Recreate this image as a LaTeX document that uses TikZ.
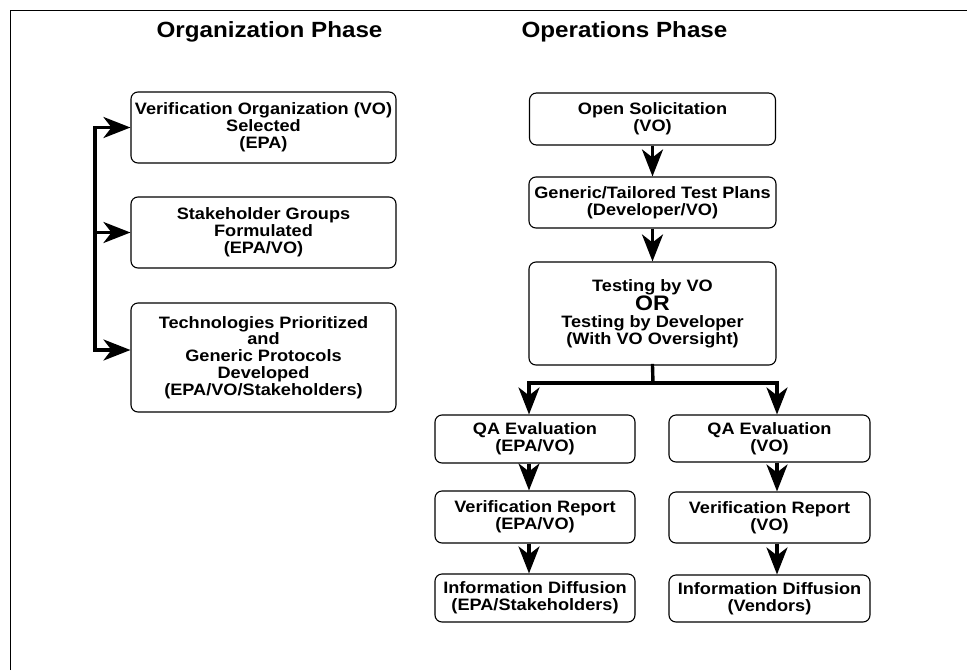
\documentclass[tikz,border=0pt]{standalone}
\usepackage{fontspec}
\setmainfont{Liberation Sans}[FakeStretch=1.1]
\usetikzlibrary{arrows.meta}
\begin{document}
\begin{tikzpicture}[x=1pt,y=-1pt,
  box/.style={draw, line width=1.1pt, rounded corners=7pt, align=center, inner sep=0pt,
    font=\fontsize{16.5}{16.8}\selectfont\bfseries},
  title/.style={font=\fontsize{22}{26}\selectfont\bfseries, anchor=base, inner sep=0pt},
  conn/.style={line width=3.4pt, line cap=rect},
  arr/.style={line width=3.4pt, -{Stealth[length=27pt 0,width=21pt 0,inset=8pt 0]}},
  frame/.style={line width=0.9pt}]
\useasboundingbox (0,0) rectangle (967,670);
% frame
\coordinate (ftl) at (10,10);
\coordinate (ftr) at (967,10);
\coordinate (fbl) at (10,670);
\draw[frame] (fbl) -- (ftl) -- (ftr);
% titles
\node[title] (t1) at (269.5,37) {Organization Phase};
\node[title] (t2) at (624.5,37) {Operations Phase};
% left column
\node[box, minimum width=265pt, minimum height=71pt] (L1) at (263.5,127.5)
  {Verification Organization (VO)\\Selected\\(EPA)};
\node[box, minimum width=265pt, minimum height=71pt] (L2) at (263.5,232.5)
  {Stakeholder Groups\\Formulated\\(EPA/VO)};
\node[box, minimum width=265pt, minimum height=109pt] (L3) at (263.5,357.5)
  {Technologies Prioritized\\and\\Generic Protocols\\Developed\\(EPA/VO/Stakeholders)};
\coordinate (btop) at (95,127.5);
\coordinate (bbot) at (95,350);
\draw[conn] (btop) -- (bbot);
\draw[arr] (btop) -- (L1.west);
\draw[arr] (L2.west -| btop) -- (L2.west);
\draw[arr] (bbot) -- (bbot -| L3.west);
% right column
\node[box, minimum width=246pt, minimum height=52pt] (R1) at (652.5,119)
  {Open Solicitation\\(VO)};
\node[box, minimum width=247pt, minimum height=51pt] (R2) at (652.5,202.5)
  {Generic/Tailored Test Plans\\(Developer/VO)};
\node[box, minimum width=247pt, minimum height=103pt] (R3) at (652.5,313.5)
  {Testing by VO\\{\fontsize{21}{20}\selectfont OR}\\Testing by Developer\\(With VO Oversight)};
\draw[arr] (R1.south) -- (R2.north);
\draw[arr] (R2.south) -- (R3.north);
\node[box, minimum width=200pt, minimum height=48pt] (QL) at (535,439) {QA Evaluation\\(EPA/VO)};
\node[box, minimum width=201pt, minimum height=47pt] (QR) at (769.5,438.5) {QA Evaluation\\(VO)};
\node[box, minimum width=200pt, minimum height=52pt] (VL) at (535,517) {Verification Report\\(EPA/VO)};
\node[box, minimum width=201pt, minimum height=51pt] (VR) at (769.5,517.5) {Verification Report\\(VO)};
\node[box, minimum width=200pt, minimum height=48pt] (IL) at (535,598) {Information Diffusion\\(EPA/Stakeholders)};
\node[box, minimum width=201pt, minimum height=47pt] (IR) at (769.5,598.5) {Information Diffusion\\(Vendors)};
\coordinate (j) at (653,383);
\coordinate (jl) at (529,383);
\coordinate (jr) at (777,383);
\draw[conn] (R3.south) -- (j);
\draw[conn] (jl) -- (jr);
\draw[arr] (jl) -- (jl |- QL.north);
\draw[arr] (jr) -- (jr |- QR.north);
\draw[arr] (QL.south -| jl) -- (VL.north -| jl);
\draw[arr] (VL.south -| jl) -- (IL.north -| jl);
\draw[arr] (QR.south -| jr) -- (VR.north -| jr);
\draw[arr] (VR.south -| jr) -- (IR.north -| jr);
\end{tikzpicture}
\end{document}
